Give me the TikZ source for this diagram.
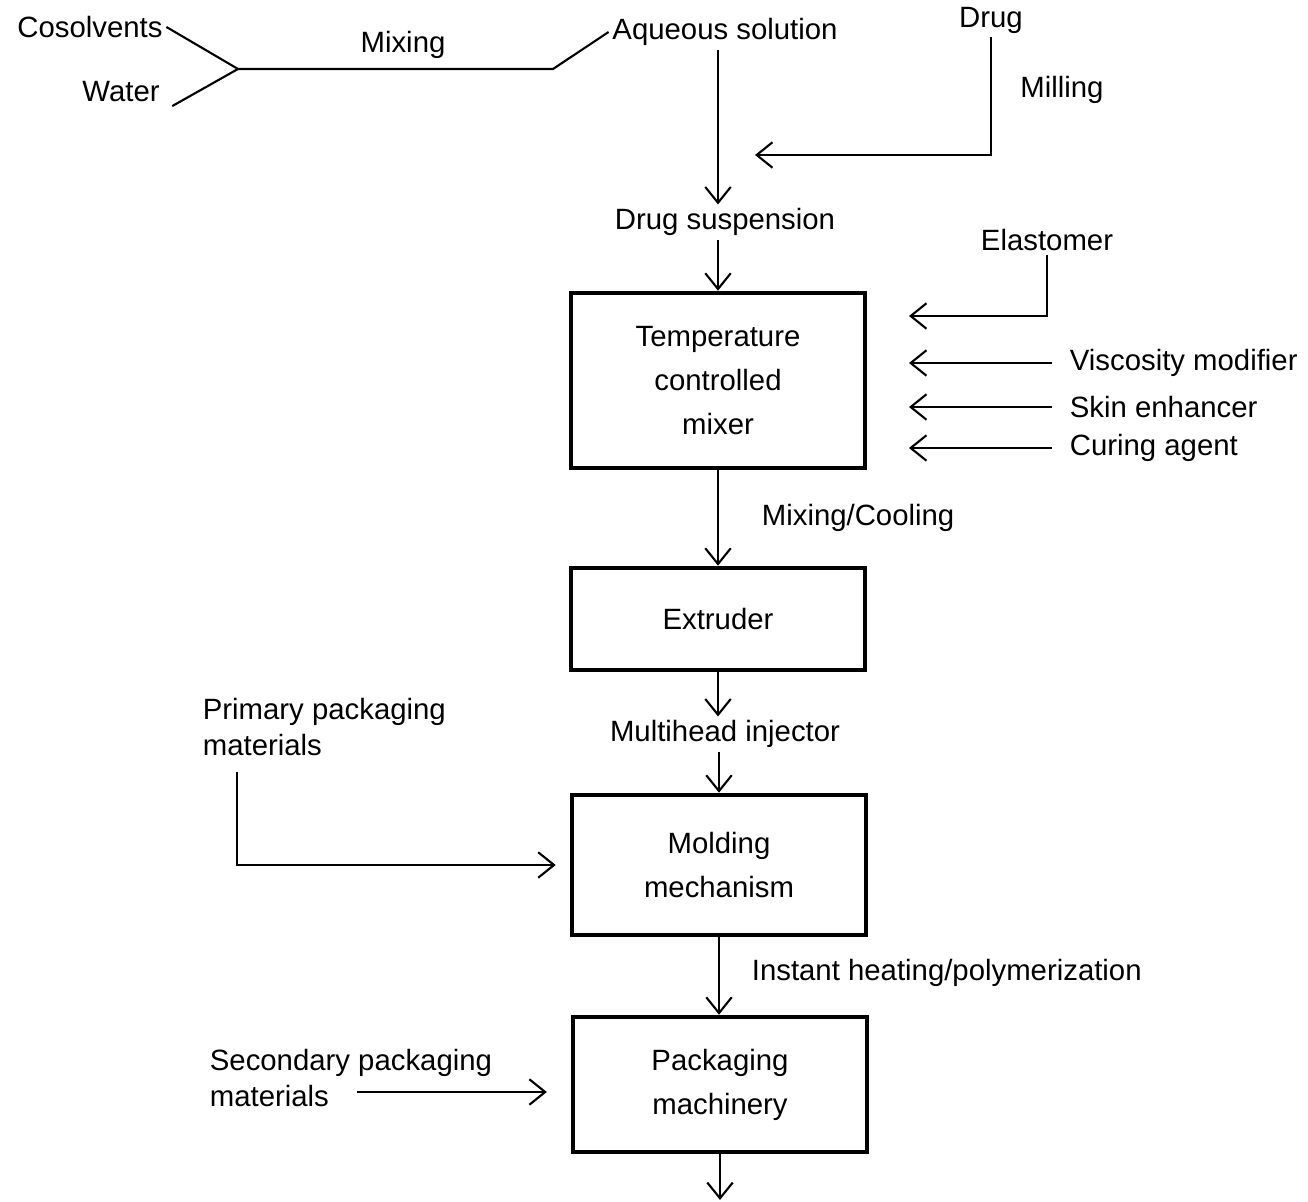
\documentclass[tikz,border=0pt]{standalone}
\usepackage{fontspec}
\setmainfont{Liberation Sans}
\usetikzlibrary{arrows.meta}
\begin{document}
\begin{tikzpicture}[x=0.02cm, y=-0.02cm,
  lbl/.style={inner sep=2pt, font=\fontsize{16.7}{20.4}\selectfont},
  stage/.style={draw, line width=2.6pt, minimum width=5.88cm, inner sep=2pt,
    align=center, font=\fontsize{16.7}{25}\selectfont},
  link/.style={line width=1.2pt},
  flow/.style={line width=1.2pt,
    -{Straight Barb[length=9pt, width=14.5pt, line width=1.2pt]}},
  side/.style={flow, shorten <=8pt}]
\useasboundingbox (0,0) rectangle (1308,1202);

% raw materials
\node[lbl] (cos) at (90,27) {Cosolvents};
\node[lbl] (wat) at (121,92) {Water};
\node[lbl] (mixlbl) at (403,45) {Mixing};
\node[lbl] (aq) at (725,32) {Aqueous solution};
\node[lbl] (drug) at (991,20) {Drug};
\node[lbl] (mill) at (1062,90) {Milling};
\node[lbl] (ds) at (725,222) {Drug suspension};

% process stages
\node[stage, minimum height=3.5cm] (mx) at (718,380.5) {Temperature\\controlled\\mixer};
\node[stage, minimum height=2.04cm] (ex) at (718,619) {Extruder};
\node[stage, minimum height=2.8cm] (mo) at (719,865) {Molding\\mechanism};
\node[stage, minimum height=2.7cm] (pk) at (720,1084.5) {Packaging\\machinery};

% additives and labels
\node[lbl] (el) at (1047,240) {Elastomer};
\node[lbl, anchor=west] (vm) at (1066,363) {Viscosity modifier};
\node[lbl, anchor=west] (se) at (1066,407) {Skin enhancer};
\node[lbl, anchor=west] (ca) at (1066,448) {Curing agent};
\node[lbl, anchor=west] (mc) at (758,518) {Mixing/Cooling};
\node[lbl] (mh) at (725,734) {Multihead injector};
\node[lbl, anchor=west] (ih) at (748,973) {Instant heating/polymerization};
\node[lbl, anchor=west, align=left] (pp) at (199,727) {Primary packaging\\materials};
\node[lbl, anchor=west, align=left] (sp) at (206,1078) {Secondary packaging\\materials};

% junction points
\coordinate (join) at (238,69);
\coordinate (bend) at (553,69);
\coordinate (millin) at (755,155);
\coordinate (elin) at (909,316);
\coordinate (spfrom) at (357,1092);
\coordinate (out) at (720,1200);

% mixing of the aqueous phase
\draw[link] (cos.east) -- (join) -- (bend) -- (aq.west);
\draw[link] ([xshift=5pt]wat.south east) -- (join);

% main flow
\draw[flow] (aq.south -| mx.north) -- (ds.north -| mx.north);
\draw[flow] (drug.south) |- (millin);
\draw[flow] (ds.south -| mx.north) -- (mx.north);
\draw[flow] (el.south) |- (elin);
\draw[side] (vm.west) -- (vm.west -| elin);
\draw[side] (se.west) -- (se.west -| elin);
\draw[side] (ca.west) -- (ca.west -| elin);
\draw[flow] (mx.south) -- (mx.south |- ex.north);
\draw[flow] (ex.south) -- (mh.north -| ex.south);
\draw[flow] (mh.south -| mo.north) -- (mo.north);
\draw[flow, shorten >=8pt] ([xshift=21.5pt, yshift=-7pt]pp.south west) |- (mo.west);
\draw[flow] (mo.south) -- (mo.south |- pk.north);
\draw[flow, shorten >=13.6pt] (spfrom) -- (spfrom -| pk.west);
\draw[flow] (pk.south) -- (pk.south |- out);
\end{tikzpicture}
\end{document}
